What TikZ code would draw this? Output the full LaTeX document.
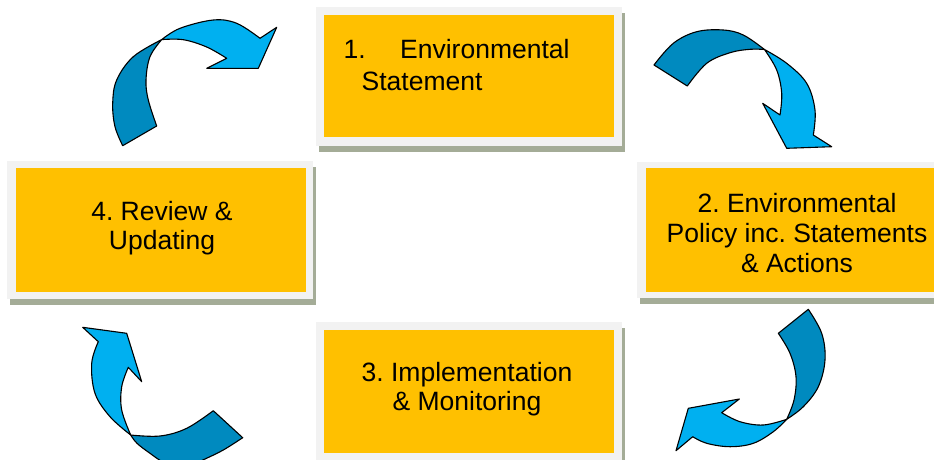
\documentclass[tikz,border=0pt]{standalone}
\usepackage{fontspec}
\setmainfont{Liberation Sans}
\frenchspacing
\definecolor{boxorange}{HTML}{FFC000}
\definecolor{framegray}{HTML}{F2F2F2}
\definecolor{shadowgreen}{HTML}{A4AC97}
\definecolor{arrlight}{HTML}{00B0F0}
\definecolor{arrdark}{HTML}{008ABF}
\begin{document}
\begin{tikzpicture}[x=1pt,y=-1pt,
  shadowbox/.style={fill=shadowgreen,draw=none,inner sep=0pt,outer sep=0pt},
  framebox/.style={fill=framegray,draw=none,inner sep=0pt,outer sep=0pt},
  stagebox/.style={fill=boxorange,draw=none,inner sep=0pt,outer sep=0pt,minimum width=290pt},
  lbl/.style={font=\fontsize{26.5}{30.5}\selectfont\frenchspacing,inner sep=0pt,text=black},
  arrlightpart/.style={fill=arrlight,draw=black,line width=1.1pt,line join=round},
  arrdarkpart/.style={fill=arrdark,draw=black,line width=1.1pt,line join=round}]
\useasboundingbox (0,0) rectangle (934,459);
\clip (0,0) rectangle (934,459);
\fill[white] (0,0) rectangle (934,459);

% ---- boxes: shadow, frame, orange ----
\node[shadowbox,minimum width=306pt,minimum height=139pt] (sh1) at (472,82.5) {};
\node[framebox,minimum width=306pt,minimum height=139pt] (f1) at (469,76.5) {};
\node[stagebox,minimum height=122pt] (s1) at (469,76) {};

\node[shadowbox,minimum width=306pt,minimum height=136pt] (sh2) at (793,236) {};
\node[framebox,minimum width=306pt,minimum height=136pt] (f2) at (790,230) {};
\node[stagebox,minimum height=124pt] (s2) at (791,230) {};

\node[shadowbox,minimum width=306pt,minimum height=139pt] (sh3) at (472,397.5) {};
\node[framebox,minimum width=306pt,minimum height=139pt] (f3) at (469,391.5) {};
\node[stagebox,minimum height=123pt] (s3) at (469,391.5) {};

\node[shadowbox,minimum width=306pt,minimum height=138pt] (sh4) at (163,236) {};
\node[framebox,minimum width=306pt,minimum height=138pt] (f4) at (160,230) {};
\node[stagebox,minimum height=124pt] (s4) at (161,230) {};

% ---- texts ----
\node[lbl,anchor=base west] (t1a) at (343.5,58.3) {1.};
\node[lbl,anchor=base west] (t1b) at (400,58.3) {Environmental};
\node[lbl,anchor=base west] (t1c) at (361.5,90) {Statement};

\node[lbl,anchor=base] (t2a) at (797,212.3) {2. Environmental};
\node[lbl,anchor=base] (t2b) at (797,242.7) {Policy inc. Statements};
\node[lbl,anchor=base] (t2c) at (797,272.7) {\& Actions};

\node[lbl,anchor=base] (t3a) at (467,381) {3. Implementation};
\node[lbl,anchor=base] (t3b) at (467,410.5) {\& Monitoring};

\node[lbl,anchor=base] (t4a) at (162,220) {4. Review \&};
\node[lbl,anchor=base] (t4b) at (162,249.5) {Updating};

% ---- arrow A (top left) ----
\draw[arrdarkpart] (122.7,145.7) -- (156.7,126)
  -- plot[smooth,tension=0.6] coordinates {(156.7,126) (148.3,100) (146,80) (150,56.7) (161.7,39.6)}
  -- plot[smooth,tension=0.6] coordinates {(161.7,39.6) (133.3,56.7) (116.7,80) (112.7,103.3) (115,126.7) (122.7,145.7)}
  -- cycle;
\draw[arrlightpart] (161.7,39.6)
  -- plot[smooth,tension=0.6] coordinates {(161.7,39.6) (180,28.3) (213.3,20) (236.7,23.3) (260,38.3)}
  -- (276.7,27.3) -- (258.3,68.3) -- (206.7,68.3) -- (226.7,58.3)
  -- plot[smooth,tension=0.6] coordinates {(226.7,58.3) (206.7,47) (183.3,39.7) (161.7,39.6)}
  -- cycle;

% ---- arrow B (top right) ----
\draw[arrdarkpart] (654,65) -- (687.3,86)
  -- plot[smooth,tension=0.6] coordinates {(687.3,86) (706.7,63.3) (730,52.7) (750,49.3) (764.5,49.5)}
  -- plot[smooth,tension=0.6] coordinates {(764.5,49.5) (743.3,35) (723.3,30) (696.7,31.7) (673.3,43.3) (654,65)}
  -- cycle;
\draw[arrlightpart] (764.5,49.5)
  -- plot[smooth,tension=0.6] coordinates {(764.5,49.5) (786.7,63.3) (806.7,83.3) (815,110) (813.3,135)}
  -- (831.7,146.7) -- (786.7,148.3) -- (762.7,103.3) -- (780,115)
  -- plot[smooth,tension=0.6] coordinates {(780,115) (781.7,93.3) (776.7,70) (764.5,49.5)}
  -- cycle;

% ---- arrow C (bottom right) ----
\draw[arrdarkpart] (808.3,309.3)
  -- plot[smooth,tension=0.6] coordinates {(808.3,309.3) (821.7,333.3) (825,360) (818.3,386.7) (803.3,406.7) (786.7,419.3)}
  -- plot[smooth,tension=0.6] coordinates {(786.7,419.3) (794,400) (796,376.7) (790,353.3) (778.3,333.3)}
  -- cycle;
\draw[arrlightpart] (786.7,419.3)
  -- plot[smooth,tension=0.6] coordinates {(786.7,419.3) (773.3,431.7) (753.3,443.3) (730,446.7) (706.7,443.3) (692.7,436.7)}
  -- (676,450.7) -- (688.3,408.3) -- (739.3,399) -- (721.7,412.7)
  -- plot[smooth,tension=0.6] coordinates {(721.7,412.7) (740,421.7) (763.3,425) (786.7,419.3)}
  -- cycle;

% ---- arrow D (bottom left) ----
\draw[arrlightpart] (82.7,327.3) -- (126.7,333.3) -- (141.7,381.7) -- (128.3,367.3)
  -- plot[smooth,tension=0.6] coordinates {(128.3,367.3) (121.7,386.7) (121.7,410) (130.7,435)}
  -- plot[smooth,tension=0.6] coordinates {(130.7,435) (110,416.7) (95,393.3) (91.7,363.3) (98.3,341.7)}
  -- cycle;
\draw[arrdarkpart] (130.7,435)
  -- plot[smooth,tension=0.6] coordinates {(130.7,435) (160,436) (186.7,428.3) (213.3,410.7)}
  -- (242.7,437.7)
  -- plot[smooth,tension=0.6] coordinates {(242.7,437.7) (223.3,450) (205,459) (185,468)}
  -- plot[smooth,tension=0.6] coordinates {(185,468) (165,463) (150,453.3) (137,443.3) (130.7,435)}
  -- cycle;
\end{tikzpicture}
\end{document}
